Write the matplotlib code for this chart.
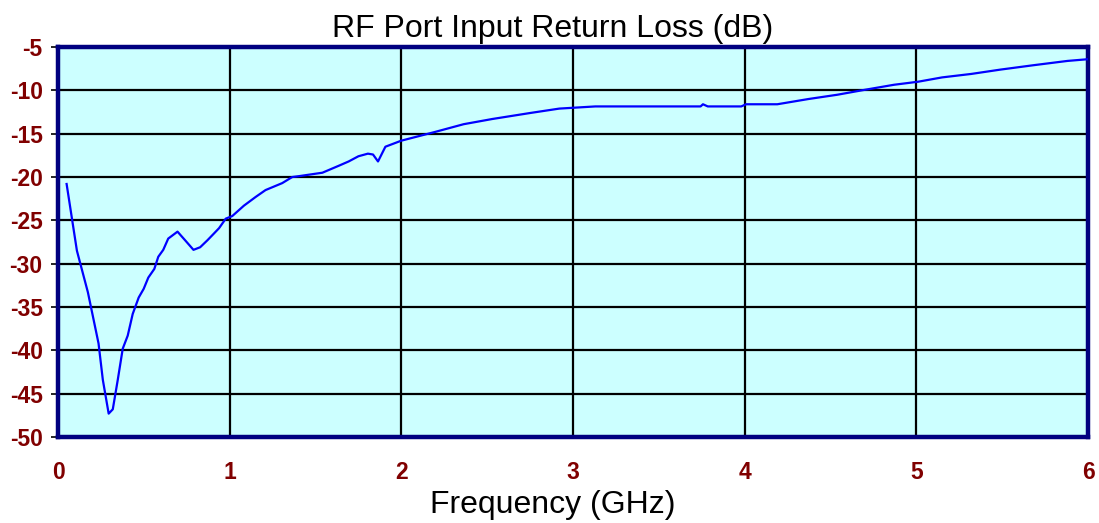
import numpy as np
import matplotlib
matplotlib.use("Agg")
import matplotlib.pyplot as plt

plt.rcParams['font.family'] = ['Liberation Sans', 'DejaVu Sans']
plt.rcParams['axes.unicode_minus'] = False

# --- Return loss trace ---
freq_ghz = [0.05, 0.11, 0.174, 0.236, 0.261, 0.295, 0.319, 0.348, 0.377, 0.406,
            0.435, 0.470, 0.499, 0.526, 0.561, 0.584, 0.613, 0.642, 0.696, 0.745,
            0.789, 0.828, 0.870, 0.909, 0.938, 0.977, 1.015, 1.083, 1.151, 1.209,
            1.306, 1.364, 1.402, 1.54, 1.635, 1.693, 1.75, 1.805, 1.835, 1.864,
            1.907, 2.0, 2.195, 2.363, 2.53, 2.753, 2.92, 3.13, 3.743, 3.757,
            3.785, 3.98, 4.008, 4.19, 4.37, 4.54, 4.68, 4.87, 5.01, 5.15,
            5.32, 5.49, 5.68, 5.88, 6.0]
return_loss_db = [-20.8, -28.5, -33.3, -39.2, -43.4, -47.3, -46.8, -43.4, -39.8, -38.3,
                  -35.8, -33.9, -32.9, -31.6, -30.6, -29.2, -28.4, -27.1, -26.3, -27.4,
                  -28.4, -28.1, -27.3, -26.5, -25.9, -24.8, -24.5, -23.3, -22.3, -21.5,
                  -20.7, -20.0, -19.9, -19.5, -18.7, -18.2, -17.6, -17.3, -17.4, -18.2,
                  -16.5, -15.8, -14.8, -13.9, -13.3, -12.6, -12.1, -11.85, -11.85, -11.6,
                  -11.85, -11.85, -11.6, -11.6, -11.0, -10.5, -10.0, -9.35, -9.0, -8.5,
                  -8.1, -7.6, -7.1, -6.6, -6.4]

x_ticks = [0, 1, 2, 3, 4, 5, 6]
y_ticks = [-5, -10, -15, -20, -25, -30, -35, -40, -45, -50]

fig = plt.figure(figsize=(10.99, 5.23), dpi=100)
ax = fig.add_axes([0.0528, 0.1644, 0.9372, 0.7456])
ax.set_facecolor('#CCFFFF')

ax.plot(freq_ghz, return_loss_db, color='#0000FF', linewidth=1.6, zorder=3)

ax.set_xlim(0, 6)
ax.set_ylim(-50, -5)
ax.set_xticks(x_ticks)
ax.set_yticks(y_ticks)
ax.grid(True, color='black', linewidth=1.6, zorder=1)
ax.set_axisbelow(True)

for side in ax.spines.values():
    side.set_color('#000080')
    side.set_linewidth(3.2)

ax.tick_params(axis='x', length=0, pad=17, labelsize=16.5, labelcolor='#800000')
ax.tick_params(axis='y', length=5, width=1.2, color='black', pad=6,
               labelsize=16.5, labelcolor='#800000')
for lbl in ax.get_xticklabels() + ax.get_yticklabels():
    lbl.set_fontweight('bold')

# title and axis label sit a little left of the plot centre, as in the original
ax.set_title("RF Port Input Return Loss (dB)", fontsize=23, pad=7, x=0.4806)
ax.set_xlabel("Frequency (GHz)", fontsize=23, labelpad=1)
ax.xaxis.set_label_coords(0.4806, -0.135)

fig.savefig("out.png", dpi=100)
